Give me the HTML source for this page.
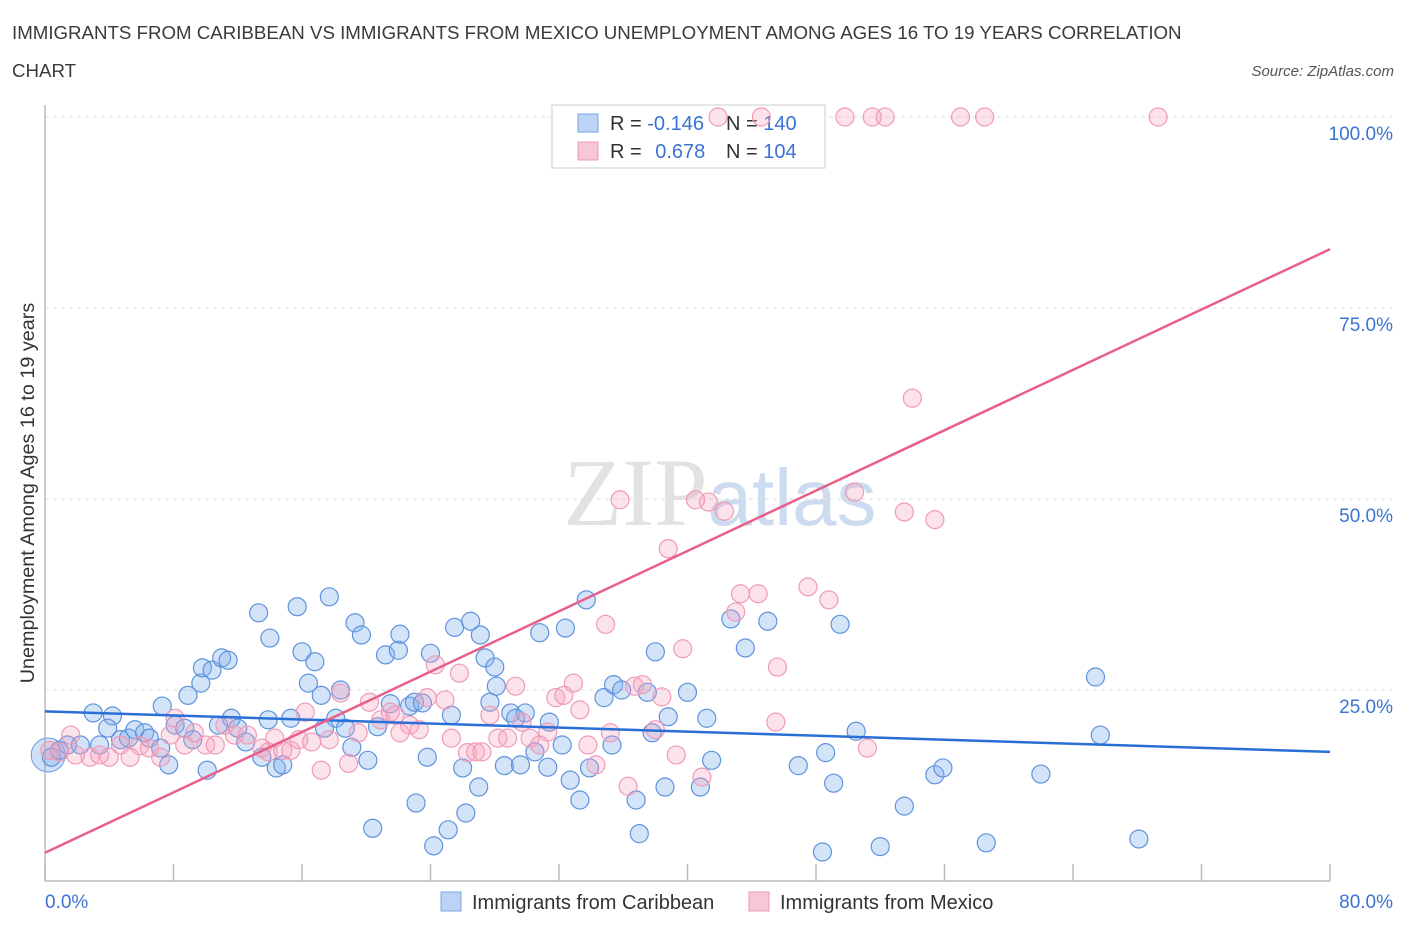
<!DOCTYPE html>
<html><head><meta charset="utf-8"><style>
body{margin:0;background:#fff;font-family:"Liberation Sans",sans-serif;}
svg{display:block}
</style></head><body>
<svg id="c" width="1406" height="930" xmlns="http://www.w3.org/2000/svg">
<text x="12" y="39" font-size="18.7" fill="#3a3a3a">IMMIGRANTS FROM CARIBBEAN VS IMMIGRANTS FROM MEXICO UNEMPLOYMENT AMONG AGES 16 TO 19 YEARS CORRELATION</text>
<text x="12" y="77" font-size="18.7" fill="#3a3a3a">CHART</text>
<text x="1394" y="76" font-size="15" fill="#555" font-style="italic" text-anchor="end">Source: ZipAtlas.com</text>
<text x="720" y="525" font-size="96" fill="#d6d6d6" text-anchor="middle" font-family="Liberation Serif, serif" opacity="0.7">ZIP<tspan fill="#b9cdea" font-family="Liberation Sans, sans-serif" font-size="80">atlas</tspan></text>
<text transform="translate(34,493) rotate(-90)" font-size="19.8" fill="#333" text-anchor="middle">Unemployment Among Ages 16 to 19 years</text>
<g id="grid"></g>
<g>
<rect x="552" y="105" width="273" height="63" fill="#fff" stroke="#ccc"/>
<rect x="578" y="114" width="20" height="18" fill="#bcd3f5" stroke="#7aa5e6"/>
<rect x="578" y="142" width="20" height="18" fill="#f8c7d6" stroke="#ec9ab5"/>
<text x="610" y="130" font-size="20" fill="#333">R = <tspan fill="#3b73d4">-0.146</tspan></text>
<text x="726" y="130" font-size="20" fill="#333">N = <tspan fill="#3b73d4">140</tspan></text>
<text x="610" y="158" font-size="20" fill="#333">R = <tspan fill="#3b73d4" dx="8">0.678</tspan></text>
<text x="726" y="158" font-size="20" fill="#333">N = <tspan fill="#3b73d4">104</tspan></text>
</g>
<g id="pts"></g><g id="lines"></g>
<g>
<rect x="441" y="892" width="20" height="19" fill="#bcd3f5" stroke="#7aa5e6"/>
<text x="472" y="909" font-size="20" fill="#333">Immigrants from Caribbean</text>
<rect x="749" y="892" width="20" height="19" fill="#f8c7d6" stroke="#ec9ab5"/>
<text x="780" y="909" font-size="20" fill="#333">Immigrants from Mexico</text>
</g>
</svg>
<script>
const xTicks=[0,8,16,24,32,40,48,56,64,72,80];
const yTicks=[25,50,75,100];
const yTickLabels=["25.0%","50.0%","75.0%","100.0%"];
const blueX=[0.4,0.9,1.4,2.2,3.0,3.4,4.2,3.9,4.7,5.2,5.6,6.2,6.5,7.2,7.3,7.7,8.1,8.7,8.9,9.2,9.7,9.8,10.1,10.4,10.8,11.0,11.4,11.6,12.0,12.5,13.3,13.5,13.9,14.0,14.4,14.8,15.3,15.7,16.0,16.4,16.8,17.2,17.4,17.7,18.1,18.4,18.7,19.1,19.3,19.7,20.1,20.4,20.7,21.2,21.5,22.0,22.1,22.7,23.0,23.1,23.5,23.8,24.0,24.2,25.1,25.3,25.5,26.0,26.2,26.5,27.0,27.1,27.4,27.7,28.0,28.1,28.6,29.0,29.3,29.6,29.9,30.5,30.8,31.3,31.4,32.2,32.4,32.7,33.3,33.7,33.9,34.8,35.3,35.4,35.9,36.8,37.0,37.5,37.8,38.0,38.6,38.8,40.0,40.8,41.2,41.5,42.7,43.6,45.0,46.9,48.4,48.6,49.1,49.5,50.5,52.0,53.5,55.4,55.9,58.6,62.0,65.4,65.7,68.1];
const blueY=[16.2,17.1,17.8,17.8,22.0,17.8,21.6,20.0,18.5,18.7,19.8,19.4,18.7,17.4,22.9,15.2,20.4,20.0,24.3,18.5,25.9,27.9,14.5,27.6,20.4,29.2,28.9,21.3,20.0,18.2,35.1,16.2,21.1,31.8,14.8,15.2,21.3,35.9,30.0,25.9,28.7,24.3,20.0,37.2,21.3,25.0,20.0,17.5,33.8,32.2,15.8,6.9,20.2,29.6,23.2,30.2,32.3,22.9,23.4,10.2,23.3,16.2,29.8,4.6,6.7,21.7,33.2,14.8,8.9,34.0,12.3,32.2,29.2,23.4,28.0,25.5,15.1,22.0,21.3,15.2,22.0,16.9,32.5,14.9,20.8,17.8,33.1,13.2,10.6,36.8,14.8,24.0,17.8,25.7,25.0,10.6,6.2,24.7,19.4,30.0,12.3,21.5,24.7,12.3,21.3,15.8,34.3,30.5,34.0,15.1,3.8,16.8,12.8,33.6,19.6,4.5,9.8,13.9,14.8,5.0,14.0,26.7,19.1,5.5];
const pinkX=[0.3,0.9,1.6,1.9,2.8,3.4,4.0,4.7,5.3,5.9,6.5,7.2,7.8,8.1,8.7,9.3,10.0,10.6,11.2,11.8,12.6,13.5,13.9,14.3,14.8,15.3,15.8,16.2,16.6,17.2,17.7,18.4,18.9,19.5,20.2,20.9,21.5,21.8,22.1,22.7,23.3,23.8,24.3,24.9,25.3,25.8,26.3,26.8,27.2,27.7,28.2,28.8,29.3,29.7,30.2,30.8,31.3,31.8,32.3,32.9,33.3,33.8,34.3,34.9,35.2,35.8,36.3,36.7,37.2,38.0,38.4,38.8,39.3,39.7,40.5,40.9,41.3,42.3,43.0,43.3,44.4,45.6,45.5,47.5,48.8,50.4,51.2,53.5,54.0,55.4,41.9,44.6,49.8,51.5,52.3,57.0,58.5,69.3];
const pinkY=[17.1,16.9,19.1,16.5,16.2,16.5,16.2,17.8,16.2,17.7,17.4,16.2,19.1,21.3,17.8,19.4,17.8,17.8,20.4,19.1,19.1,17.4,16.9,18.7,17.1,17.1,18.5,22.1,18.2,14.5,18.5,24.6,15.4,19.4,23.4,21.1,22.1,21.7,19.4,20.4,19.8,24.0,28.3,23.7,18.7,27.2,16.8,16.9,16.9,21.7,18.7,18.7,25.5,20.8,18.7,17.8,19.5,24.0,24.3,25.9,22.4,17.8,15.2,33.6,19.4,49.9,12.4,25.5,25.7,19.8,24.1,43.5,16.5,30.4,49.9,13.6,49.6,48.4,35.2,37.6,37.6,28.0,20.8,38.5,36.8,50.9,17.4,48.3,63.2,47.3,100,100,100,100,100,100,100,100];
const blueTrend=[22.2,16.9];
const pinkTrend=[3.7,82.7];
const NS='http://www.w3.org/2000/svg';
const X0=45,X1=1330,Y0=881,Y100=117;
function sx(v){return X0+(v/80)*(X1-X0);}
function sy(v){return Y0-(v/100)*(Y0-Y100);}
function mk(t,a,p){const e=document.createElementNS(NS,t);for(const k in a)e.setAttribute(k,a[k]);p.appendChild(e);return e;}
const grid=document.getElementById('grid');
yTicks.forEach((t,i)=>{
 const l=mk('line',{x1:X0,x2:1392,y1:sy(t),y2:sy(t),stroke:'#ddd','stroke-dasharray':'4,4'},grid);
 
 
 const tx=mk('text',{x:1393,y:sy(t)+23,'font-size':19,fill:'#3b73d4','text-anchor':'end'},grid);
 tx.textContent=yTickLabels[i];
 
 
});
const ax=mk('line',{x1:X0,x2:X0,y1:105,y2:Y0,stroke:'#bbb','stroke-width':1.5},grid);


const bx=mk('line',{x1:X0,x2:X1,y1:Y0,y2:Y0,stroke:'#bbb','stroke-width':1.5},grid);


xTicks.forEach(t=>{
 const l=mk('line',{x1:sx(t),x2:sx(t),y1:864,y2:Y0,stroke:'#bbb','stroke-width':1.5},grid);
 
 
});
const xl0=mk('text',{x:45,y:908,'font-size':19,fill:'#3b73d4'},grid);xl0.textContent='0.0%';


const xl1=mk('text',{x:1393,y:908,'font-size':19,fill:'#3b73d4','text-anchor':'end'},grid);xl1.textContent='80.0%';


const pts=document.getElementById('pts');
const big=mk('circle',{cx:sx(0.2),cy:sy(16.5),r:17,fill:'rgba(120,165,230,0.35)',stroke:'#6a9be0'},pts);


blueX.forEach((x,i)=>{
 const c=mk('circle',{cx:sx(x),cy:sy(blueY[i]),r:9,fill:'rgba(130,175,235,0.35)',stroke:'#5f93dd','stroke-width':1.2},pts);
 
 
});
pinkX.forEach((x,i)=>{
 const c=mk('circle',{cx:sx(x),cy:sy(pinkY[i]),r:9,fill:'rgba(245,160,190,0.3)',stroke:'#ef9bb8','stroke-width':1.2},pts);
 
 
});
const lines=document.getElementById('lines');
const bt=mk('line',{x1:sx(0),y1:sy(blueTrend[0]),x2:sx(80),y2:sy(blueTrend[1]),stroke:'#2a6fd6','stroke-width':2.5},lines);


const pt=mk('line',{x1:sx(0),y1:sy(pinkTrend[0]),x2:sx(80),y2:sy(pinkTrend[1]),stroke:'#e8608a','stroke-width':2.5},lines);


</script>
</body></html>
